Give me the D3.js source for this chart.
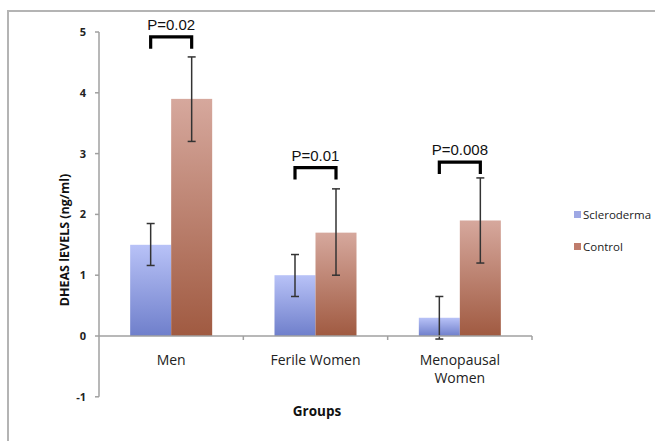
<!DOCTYPE html>
<html>
<head>
<meta charset="utf-8">
<script src="https://cdn.jsdelivr.net/npm/d3@7"></script>
<style>
body { margin: 0; background: #fff; }
svg { display: block; }
</style>
</head>
<body>
<div id="chart"></div>
<script>
var categories = [["Men"], ["Ferile Women"], ["Menopausal", "Women"]];
var catKeys = ["Men", "Ferile Women", "Menopausal Women"];
var series = ["Scleroderma", "Control"];
var sclValues = [1.5, 1.0, 0.3];
var sclLow = [1.16, 0.65, -0.05];
var sclHigh = [1.85, 1.34, 0.65];
var ctlValues = [3.9, 1.7, 1.9];
var ctlLow = [3.2, 1.0, 1.2];
var ctlHigh = [4.59, 2.42, 2.6];
var pLabels = ["P=0.02", "P=0.01", "P=0.008"];
var pLevels = [4.92, 2.77, 2.86];
var yTicks = [-1, 0, 1, 2, 3, 4, 5];

var width = 655, height = 441;
var svg = d3.select("#chart").append("svg").attr("width", width).attr("height", height);

var defs = svg.append("defs");
function grad(id, top, bottom) {
	var g = defs.append("linearGradient").attr("id", id)
		.attr("x1", "0%").attr("y1", "0%").attr("x2", "0%").attr("y2", "100%");
	g.append("stop").attr("offset", "0%").attr("stop-color", top);
	g.append("stop").attr("offset", "100%").attr("stop-color", bottom);
}
grad("gScl", "#b8c2f7", "#6f7fcb");
grad("gCtl", "#d6a89d", "#a05a41");

// outer frame
svg.append("path").attr("d", "M8,441 L8,11 L655,11")
	.attr("fill", "none").attr("stroke", "#b4b4b4").attr("stroke-width", 2);

var x = d3.scaleBand().domain(catKeys).range([99, 532]);
var xs = d3.scaleBand().domain(series).range([0, x.bandwidth()]).paddingOuter(0.76);
var y = d3.scaleLinear().domain([-1, 5]).range([396.8, 32]);

var axisColor = "#a0a0a0";
var font = "'Open Sans', Lato, sans-serif";

// y axis
svg.append("line").attr("x1", 99).attr("x2", 99).attr("y1", y(5)).attr("y2", y(-1))
	.attr("stroke", axisColor).attr("stroke-width", 1.5);
svg.selectAll("line.ytick").data(yTicks).enter().append("line").attr("class", "ytick")
	.attr("x1", 95).attr("x2", 99).attr("y1", function(d) { return y(d); }).attr("y2", function(d) { return y(d); })
	.attr("stroke", axisColor).attr("stroke-width", 1.5);
svg.selectAll("text.ylab").data(yTicks).enter().append("text").attr("class", "ylab")
	.attr("x", 86).attr("y", function(d) { return y(d) + 4; })
	.attr("text-anchor", "end").attr("font-family", font).attr("font-weight", "bold")
	.attr("font-size", "11px").attr("fill", "#222").text(function(d) { return d; });

svg.append("text").attr("transform", "translate(69,240) rotate(-90)")
	.attr("text-anchor", "middle").attr("font-family", font).attr("font-weight", "bold")
	.attr("font-size", "12.5px").attr("fill", "#111").text("DHEAS lEVELS (ng/ml)");

// bars
var groups = svg.selectAll("g.cat").data(catKeys).enter().append("g").attr("class", "cat")
	.attr("transform", function(d) { return "translate(" + x(d) + ",0)"; });

groups.append("rect").attr("x", xs("Scleroderma")).attr("width", xs.bandwidth())
	.attr("y", function(d, i) { return y(sclValues[i]); })
	.attr("height", function(d, i) { return y(0) - y(sclValues[i]); })
	.attr("fill", "url(#gScl)");
groups.append("rect").attr("x", xs("Control")).attr("width", xs.bandwidth())
	.attr("y", function(d, i) { return y(ctlValues[i]); })
	.attr("height", function(d, i) { return y(0) - y(ctlValues[i]); })
	.attr("fill", "url(#gCtl)");

// x axis
svg.append("line").attr("x1", 99).attr("x2", 532).attr("y1", y(0)).attr("y2", y(0))
	.attr("stroke", axisColor).attr("stroke-width", 1.5);
svg.selectAll("line.xtick").data([catKeys[1], catKeys[2]]).enter().append("line").attr("class", "xtick")
	.attr("x1", function(d) { return x(d); }).attr("x2", function(d) { return x(d); })
	.attr("y1", y(0)).attr("y2", y(0) + 4).attr("stroke", axisColor).attr("stroke-width", 1.5);
svg.append("line").attr("x1", 532).attr("x2", 532).attr("y1", y(0)).attr("y2", y(0) + 4)
	.attr("stroke", axisColor).attr("stroke-width", 1.5);

// error bars
function errBars(key, lo, hi) {
	var cx = xs(key) + xs.bandwidth() / 2;
	var eg = groups.append("g").attr("stroke", "#333").attr("stroke-width", 1.5);
	eg.append("line").attr("x1", cx).attr("x2", cx)
		.attr("y1", function(d, i) { return y(lo[i]); }).attr("y2", function(d, i) { return y(hi[i]); });
	eg.append("line").attr("x1", cx - 4).attr("x2", cx + 4)
		.attr("y1", function(d, i) { return y(lo[i]); }).attr("y2", function(d, i) { return y(lo[i]); });
	eg.append("line").attr("x1", cx - 4).attr("x2", cx + 4)
		.attr("y1", function(d, i) { return y(hi[i]); }).attr("y2", function(d, i) { return y(hi[i]); });
}
errBars("Scleroderma", sclLow, sclHigh);
errBars("Control", ctlLow, ctlHigh);

// category labels
groups.each(function(d, i) {
	var t = d3.select(this).append("text").attr("text-anchor", "middle")
		.attr("font-family", font).attr("font-size", "14px").attr("fill", "#222");
	categories[i].forEach(function(line, j) {
		t.append("tspan").attr("x", x.bandwidth() / 2).attr("y", 365 + j * 18).text(line);
	});
});

svg.append("text").attr("x", 317).attr("y", 416).attr("text-anchor", "middle")
	.attr("font-family", font).attr("font-weight", "bold").attr("font-size", "13.5px")
	.attr("fill", "#111").text("Groups");

// significance brackets
var x1 = xs("Scleroderma") + xs.bandwidth() / 2, x2 = xs("Control") + xs.bandwidth() / 2;
groups.append("path")
	.attr("d", function(d, i) {
		var top = y(pLevels[i]);
		return "M" + x1 + "," + (top + 12) + " L" + x1 + "," + top + " L" + x2 + "," + top + " L" + x2 + "," + (top + 12);
	})
	.attr("fill", "none").attr("stroke", "#000").attr("stroke-width", 3.2);
groups.append("text").attr("x", (x1 + x2) / 2)
	.attr("y", function(d, i) { return y(pLevels[i]) - 7; })
	.attr("text-anchor", "middle").attr("font-family", "'Liberation Sans', Arial, sans-serif")
	.attr("font-size", "15px").attr("fill", "#111").text(function(d, i) { return pLabels[i]; });

// legend
var legColors = ["#9ea8e4", "#bf7c6c"];
var leg = svg.selectAll("g.leg").data(series).enter().append("g").attr("class", "leg")
	.attr("transform", function(d, i) { return "translate(574," + (211 + i * 32) + ")"; });
leg.append("rect").attr("width", 7).attr("height", 7).attr("fill", function(d, i) { return legColors[i]; });
leg.append("text").attr("x", 9).attr("y", 8).attr("font-family", font).attr("font-size", "11.5px")
	.attr("fill", "#222").text(function(d) { return d; });
</script>
</body>
</html>
